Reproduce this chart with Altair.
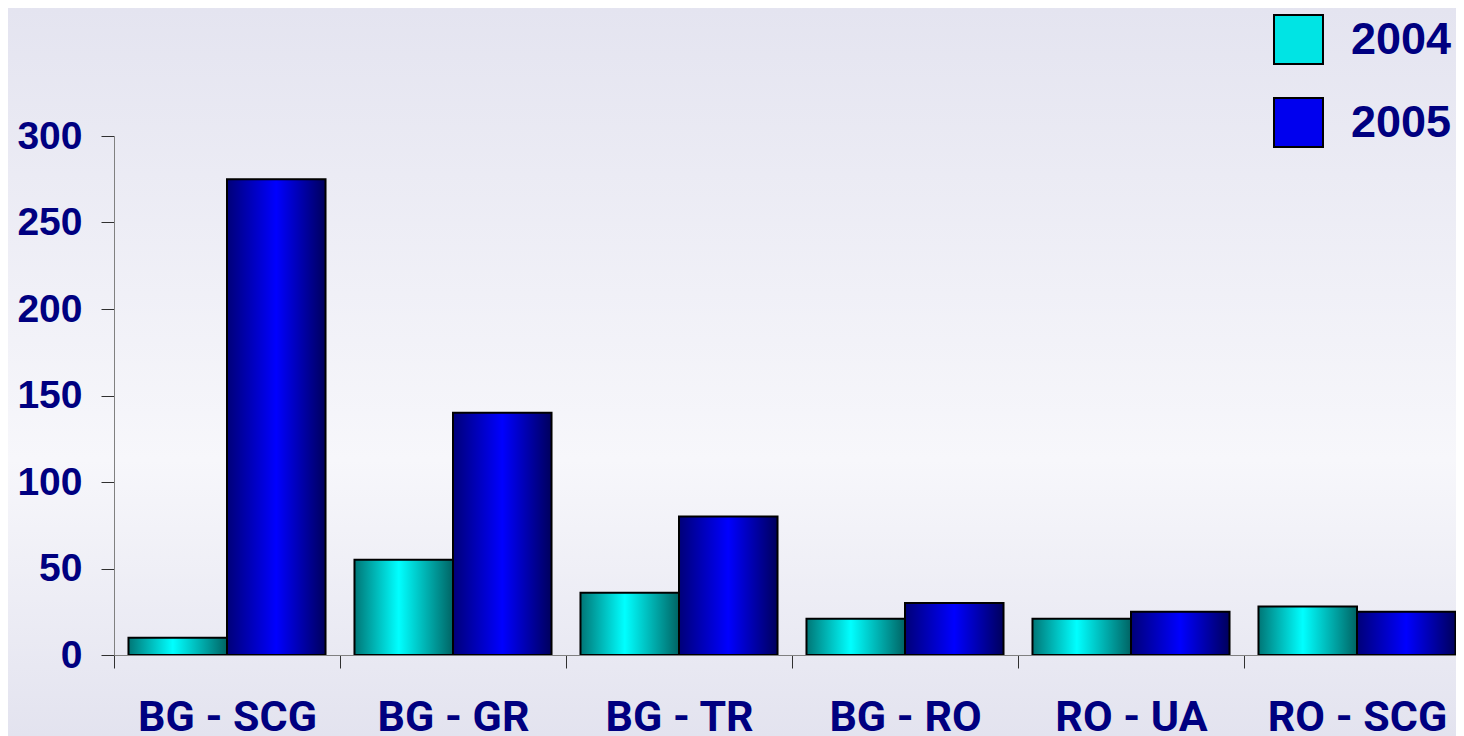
import altair as alt
import pandas as pd

categories = ["BG - SCG", "BG - GR", "BG - TR", "BG - RO", "RO - UA", "RO - SCG"]
years = ["2004", "2005"]
values_2004 = [10, 55, 36, 21, 21, 28]
values_2005 = [275, 140, 80, 30, 25, 25]
y_ticks = [0, 50, 100, 150, 200, 250, 300]

rows = []
for c, v in zip(categories, values_2004):
    rows.append({"route": c, "year": "2004", "value": v})
for c, v in zip(categories, values_2005):
    rows.append({"route": c, "year": "2005", "value": v})
df = pd.DataFrame(rows)

W, H = 1356, 519
NAVY = "#000080"

grad_cyan = alt.Gradient(
    gradient="linear", x1=0, x2=1, y1=0, y2=0,
    stops=[alt.GradientStop(offset=0, color="#007676"),
           alt.GradientStop(offset=0.45, color="#00ffff"),
           alt.GradientStop(offset=1, color="#006464")])
grad_blue = alt.Gradient(
    gradient="linear", x1=0, x2=1, y1=0, y2=0,
    stops=[alt.GradientStop(offset=0, color="#000078"),
           alt.GradientStop(offset=0.5, color="#0000ff"),
           alt.GradientStop(offset=1, color="#00005c")])
grad_bg = alt.Gradient(
    gradient="linear", x1=0, x2=0, y1=0, y2=1,
    stops=[alt.GradientStop(offset=0, color="#e4e4f0"),
           alt.GradientStop(offset=0.62, color="#f7f7fb"),
           alt.GradientStop(offset=1, color="#e3e3ef")])

x_enc = alt.X("route:N", sort=categories, title=None,
              scale=alt.Scale(paddingInner=0, paddingOuter=0),
              axis=alt.Axis(labelAngle=0, tickBand="extent", tickSize=13, zindex=1,
                            labelFont="Roboto", labelFontSize=43, labelFontWeight="bold",
                            labelColor=NAVY, labelPadding=28, domainColor="#808080",
                            tickColor="#303030", labelLimit=400))
xo_enc = alt.XOffset("year:N", scale=alt.Scale(domain=years, paddingOuter=0.147, paddingInner=0))
y_enc = alt.Y("value:Q", title=None,
              scale=alt.Scale(domain=[0, 300], nice=False),
              axis=alt.Axis(values=y_ticks, grid=False, tickSize=13, zindex=1,
                            labelFont="Liberation Sans", labelFontSize=39, labelFontWeight="bold",
                            labelColor=NAVY, labelPadding=19, domainColor="#808080",
                            tickColor="#303030"))

base = alt.Chart(df)

bg = alt.Chart(pd.DataFrame({"k": [0]})).mark_rect(fill=grad_bg).encode(
    x=alt.value(-106), x2=alt.value(W), y=alt.value(-128), y2=alt.value(H + 81))

bars04 = base.transform_filter(alt.datum.year == "2004").mark_bar(
    fill=grad_cyan, stroke="black", strokeWidth=2).encode(x=x_enc, xOffset=xo_enc, y=y_enc)
bars05 = base.transform_filter(alt.datum.year == "2005").mark_bar(
    fill=grad_blue, stroke="black", strokeWidth=2).encode(x=x_enc, xOffset=xo_enc, y=y_enc)

legend_layer = base.mark_bar(opacity=0).encode(
    x=x_enc, xOffset=xo_enc, y=y_enc,
    color=alt.Color("year:N", scale=alt.Scale(domain=years, range=["#00e4e4", "#0000ee"]),
                    legend=alt.Legend(title=None, orient="none", legendX=1159, legendY=-122,
                                      symbolType="square", symbolSize=2400,
                                      symbolStrokeColor="black", symbolStrokeWidth=2,
                                      symbolOpacity=1, labelFont="Liberation Sans",
                                      labelFontSize=45, labelFontWeight="bold",
                                      labelColor=NAVY, labelOffset=27, rowPadding=26,
                                      padding=0, zindex=2)))

chart = alt.layer(bg, bars04, bars05, legend_layer).properties(
    width=W, height=H,
    padding={"left": 106, "top": 128, "right": -14, "bottom": 81},
    autosize=alt.AutoSizeParams(type="none"),
).configure(background="#ececf5").configure_view(stroke=None)

chart.save("out.html", embed_options={"renderer": "svg", "actions": False})
